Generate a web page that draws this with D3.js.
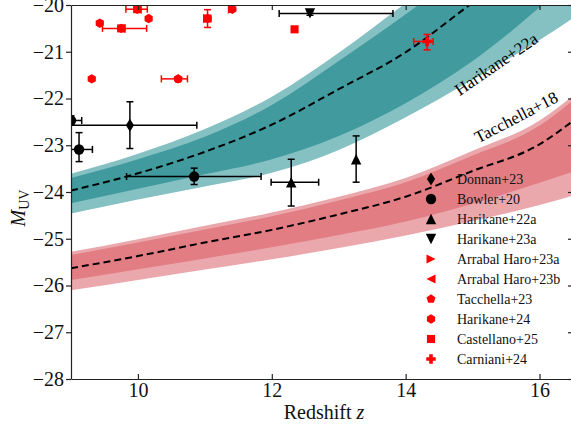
<!DOCTYPE html>
<html lang="en">
<head>
<meta charset="UTF-8" />
<title>MUV vs redshift</title>
<script src="https://d3js.org/d3.v7.min.js"></script>
<style>
  body { margin: 0; background: #fff; }
  svg { display: block; font-family: "Liberation Serif", "DejaVu Serif", serif; }
  .axis path, .axis line { stroke: #222; stroke-width: 1.2px; }
  .axis text { font-family: "Liberation Serif", serif; font-size: 20px; fill: #111; }
  .legend text { font-size: 14px; fill: #111; }
</style>
</head>
<body>
<svg width="571" height="432"></svg>
<script>
// --- model bands, read at these redshifts ---
const zGrid = [9, 10, 11, 12, 13, 14, 15, 16, 16.5];

const h22Mid      = [-23.97, -23.60, -23.14, -22.56, -21.80, -21.01, -19.95, -18.90, -18.30];
const h22LightTop = [-23.61, -23.18, -22.65, -21.96, -21.02, -19.96, -18.90, -17.80, -17.20];
const h22DarkTop  = [-23.70, -23.30, -22.82, -22.14, -21.20, -20.20, -19.10, -18.00, -17.40];
const h22DarkBot  = [-24.24, -23.93, -23.62, -23.30, -22.80, -22.10, -21.20, -20.05, -19.40];
const h22LightBot = [-24.46, -24.16, -23.88, -23.59, -23.10, -22.40, -21.60, -20.75, -20.28];

const t18Mid      = [-25.63, -25.37, -25.08, -24.81, -24.48, -24.10, -23.55, -22.98, -22.48];
const t18LightTop = [-25.28, -25.01, -24.72, -24.44, -24.10, -23.70, -23.12, -22.47, -21.94];
const t18DarkTop  = [-25.35, -25.08, -24.80, -24.52, -24.18, -23.79, -23.22, -22.58, -22.04];
const t18DarkBot  = [-25.88, -25.65, -25.42, -25.18, -24.92, -24.63, -24.25, -23.80, -23.57];
const t18LightBot = [-26.10, -25.88, -25.66, -25.44, -25.20, -24.93, -24.62, -24.28, -24.08];

// --- observations: [z, M, zLo, zHi, MLo, MHi] (null = no error bar) ---
const donnan23    = [[9.88, -22.57, 8.90, 10.88, -23.07, -22.07]];
const bowler20    = [[9.00, -22.47, 8.84, 9.16, -22.57, -22.37],
                     [9.12, -23.09, 8.92, 9.32, -23.35, -22.73],
                     [10.84, -23.67, 9.83, 11.84, -23.84, -23.49]];
const harikane22a = [[12.29, -23.79, 11.99, 12.70, -24.30, -23.30],
                     [13.26, -23.30, null, null, -23.79, -22.80]];
const harikane23a = [[12.57, -20.18, 12.11, 13.81, -20.22, -20.14]];
const arrabal23a  = [[11.04, -20.29, null, null, -20.48, -20.10],
                     [11.41, -20.09, null, null, null, null]];
const arrabal23b  = [[9.75, -20.50, 9.47, 10.13, null, null],
                     [9.99, -20.09, 9.82, 10.14, null, null]];
const tacchella23 = [[10.60, -21.58, 10.35, 10.74, null, null]];
const harikane24  = [[9.31, -21.58, null, null, null, null],
                     [10.60, -21.58, null, null, null, null],
                     [9.43, -20.39, null, null, null, null],
                     [10.16, -20.29, null, null, null, null],
                     [9.75, -20.50, null, null, null, null],
                     [9.99, -20.09, null, null, null, null],
                     [11.04, -20.29, null, null, null, null],
                     [11.41, -20.09, null, null, null, null]];
const castellano25 = [[9.75, -20.50, null, null, null, null],
                      [9.99, -20.09, null, null, null, null],
                      [11.04, -20.29, null, null, null, null],
                      [12.34, -20.52, null, null, null, null]];
const carniani24  = [[14.32, -20.78, 14.12, 14.41, -20.96, -20.63]];

const xTicks = [10, 12, 14, 16];
const yTicks = [-28, -27, -26, -25, -24, -23, -22, -21, -20];

const series = [
  { name: 'Donnan+23', data: donnan23, shape: 'd', color: '#000' },
  { name: 'Bowler+20', data: bowler20, shape: 'o', color: '#000' },
  { name: 'Harikane+22a', data: harikane22a, shape: '^', color: '#000' },
  { name: 'Harikane+23a', data: harikane23a, shape: 'v', color: '#000' },
  { name: 'Arrabal Haro+23a', data: arrabal23a, shape: '>', color: '#ff0000' },
  { name: 'Arrabal Haro+23b', data: arrabal23b, shape: '<', color: '#ff0000' },
  { name: 'Tacchella+23', data: tacchella23, shape: 'p', color: '#ff0000' },
  { name: 'Harikane+24', data: harikane24, shape: 'h', color: '#ff0000' },
  { name: 'Castellano+25', data: castellano25, shape: 's', color: '#ff0000' },
  { name: 'Carniani+24', data: carniani24, shape: 'P', color: '#ff0000' }
];

const svg = d3.select('svg');
const plotL = 71, plotT = 5, plotR = 573, plotB = 379;

const x = d3.scaleLinear().domain([9, 16.5]).range([plotL, plotR]);
const y = d3.scaleLinear().domain([-28, -20]).range([plotB, plotT]);

svg.append('clipPath').attr('id', 'plot')
  .append('rect').attr('x', plotL).attr('y', plotT).attr('width', plotR - plotL).attr('height', plotB - plotT);

const plot = svg.append('g').attr('clip-path', 'url(#plot)');

function band(lo, hi, color) {
  const rows = zGrid.map((z, i) => ({ z, lo: lo[i], hi: hi[i] }));
  plot.append('path')
    .attr('d', d3.area().x(d => x(d.z)).y0(d => y(d.lo)).y1(d => y(d.hi)).curve(d3.curveMonotoneX)(rows))
    .attr('fill', color);
}
function dashed(vals) {
  const rows = zGrid.map((z, i) => ({ z, m: vals[i] }));
  plot.append('path')
    .attr('d', d3.line().x(d => x(d.z)).y(d => y(d.m)).curve(d3.curveMonotoneX)(rows))
    .attr('fill', 'none').attr('stroke', '#000').attr('stroke-width', 2).attr('stroke-dasharray', '7,4');
}

band(h22LightBot, h22LightTop, '#85c0c3');
band(h22DarkBot, h22DarkTop, '#409a9e');
band(t18LightBot, t18LightTop, '#eba8ac');
band(t18DarkBot, t18DarkTop, '#e27d83');
dashed(h22Mid);
dashed(t18Mid);

// marker outline for each shape, centred on 0,0
function shapePath(type, s) {
  const poly = pts => 'M' + pts.map(p => p.join(',')).join('L') + 'Z';
  const reg = (n, r, rot) => d3.range(n).map(k => {
    const a = rot + k * 2 * Math.PI / n;
    return [r * Math.sin(a), -r * Math.cos(a)];
  });
  switch (type) {
    case 'o': return d3.symbol(d3.symbolCircle, Math.PI * s * s)();
    case 'd': return poly([[0, -s * 1.25], [s * 0.78, 0], [0, s * 1.25], [-s * 0.78, 0]]);
    case '^': return poly([[0, -s], [s, s], [-s, s]]);
    case 'v': return poly([[0, s], [s, -s], [-s, -s]]);
    case '>': return poly([[s, 0], [-s, s], [-s, -s]]);
    case '<': return poly([[-s, 0], [s, s], [s, -s]]);
    case 'p': return poly(reg(5, s * 1.05, 0));
    case 'h': return poly(reg(6, s * 1.05, 0));
    case 's': return poly([[-s * 0.9, -s * 0.9], [s * 0.9, -s * 0.9], [s * 0.9, s * 0.9], [-s * 0.9, s * 0.9]]);
    case 'P': {
      const a = s * 0.4, b = s * 1.05;
      return poly([[-a, -b], [a, -b], [a, -a], [b, -a], [b, a], [a, a], [a, b], [-a, b], [-a, a], [-b, a], [-b, -a], [-a, -a]]);
    }
  }
}

const sizeOf = sr => (sr.color === '#000' ? 5.2 : 4.5);

series.forEach(sr => {
  const g = plot.append('g');
  const cap = 3.5;
  sr.data.forEach(d => {
    const [z, m, zl, zh, ml, mh] = d;
    const px = x(z), py = y(m);
    if (zl !== null) {
      g.append('line').attr('x1', x(zl)).attr('x2', x(zh)).attr('y1', py).attr('y2', py)
        .attr('stroke', sr.color).attr('stroke-width', 1.5);
      [zl, zh].forEach(v => g.append('line').attr('x1', x(v)).attr('x2', x(v))
        .attr('y1', py - cap).attr('y2', py + cap).attr('stroke', sr.color).attr('stroke-width', 1.5));
    }
    if (ml !== null) {
      g.append('line').attr('x1', px).attr('x2', px).attr('y1', y(ml)).attr('y2', y(mh))
        .attr('stroke', sr.color).attr('stroke-width', 1.5);
      [ml, mh].forEach(v => g.append('line').attr('y1', y(v)).attr('y2', y(v))
        .attr('x1', px - cap).attr('x2', px + cap).attr('stroke', sr.color).attr('stroke-width', 1.5));
    }
    g.append('path').attr('d', shapePath(sr.shape, sizeOf(sr)))
      .attr('transform', `translate(${px},${py})`).attr('fill', sr.color);
  });
});

// band labels
plot.append('text').attr('transform', 'translate(496,64) rotate(-34.5)')
  .attr('text-anchor', 'middle').attr('dy', '0.35em').attr('font-size', 17).text('Harikane+22a');
plot.append('text').attr('transform', 'translate(516,117) rotate(-27.5)')
  .attr('text-anchor', 'middle').attr('dy', '0.35em').attr('font-size', 17).text('Tacchella+18');

// axes
svg.append('g').attr('class', 'axis').attr('transform', `translate(0,${plotB})`)
  .call(d3.axisBottom(x).tickValues(xTicks).tickSizeInner(-5).tickSizeOuter(0).tickPadding(4));
svg.append('g').attr('class', 'axis').attr('transform', `translate(0,${plotT})`)
  .call(d3.axisTop(x).tickValues(xTicks).tickSizeInner(-5).tickSizeOuter(0).tickFormat(''));
svg.append('g').attr('class', 'axis').attr('transform', `translate(${plotL},0)`)
  .call(d3.axisLeft(y).tickValues(yTicks).tickSizeInner(5).tickSizeOuter(0).tickPadding(2)
    .tickFormat(d => d3.format('d')(d).replace('-', '\u2212')));
svg.append('g').attr('class', 'axis').attr('transform', `translate(${plotR},0)`)
  .call(d3.axisRight(y).tickValues(yTicks).tickSizeInner(-5).tickSizeOuter(0).tickFormat(''));

// axis titles
const xl = svg.append('text').attr('x', (plotL + 571) / 2 + 3).attr('y', 419)
  .attr('text-anchor', 'middle').attr('font-size', 20).attr('fill', '#111');
xl.append('tspan').text('Redshift ');
xl.append('tspan').attr('font-style', 'italic').text('z');

const yl = svg.append('text').attr('transform', 'translate(25,208) rotate(-90)')
  .attr('text-anchor', 'middle').attr('font-size', 20).attr('fill', '#111');
yl.append('tspan').attr('font-style', 'italic').text('M');
yl.append('tspan').attr('font-size', 14).attr('dy', 4).text('UV');

// legend
const legend = svg.append('g').attr('class', 'legend');
series.forEach((sr, i) => {
  const ly = 179 + i * 20;
  legend.append('path').attr('d', shapePath(sr.shape, sizeOf(sr)))
    .attr('transform', `translate(431,${ly})`).attr('fill', sr.color);
  legend.append('text').attr('x', 457).attr('y', ly).attr('dy', '0.35em').text(sr.name);
});
</script>
</body>
</html>
